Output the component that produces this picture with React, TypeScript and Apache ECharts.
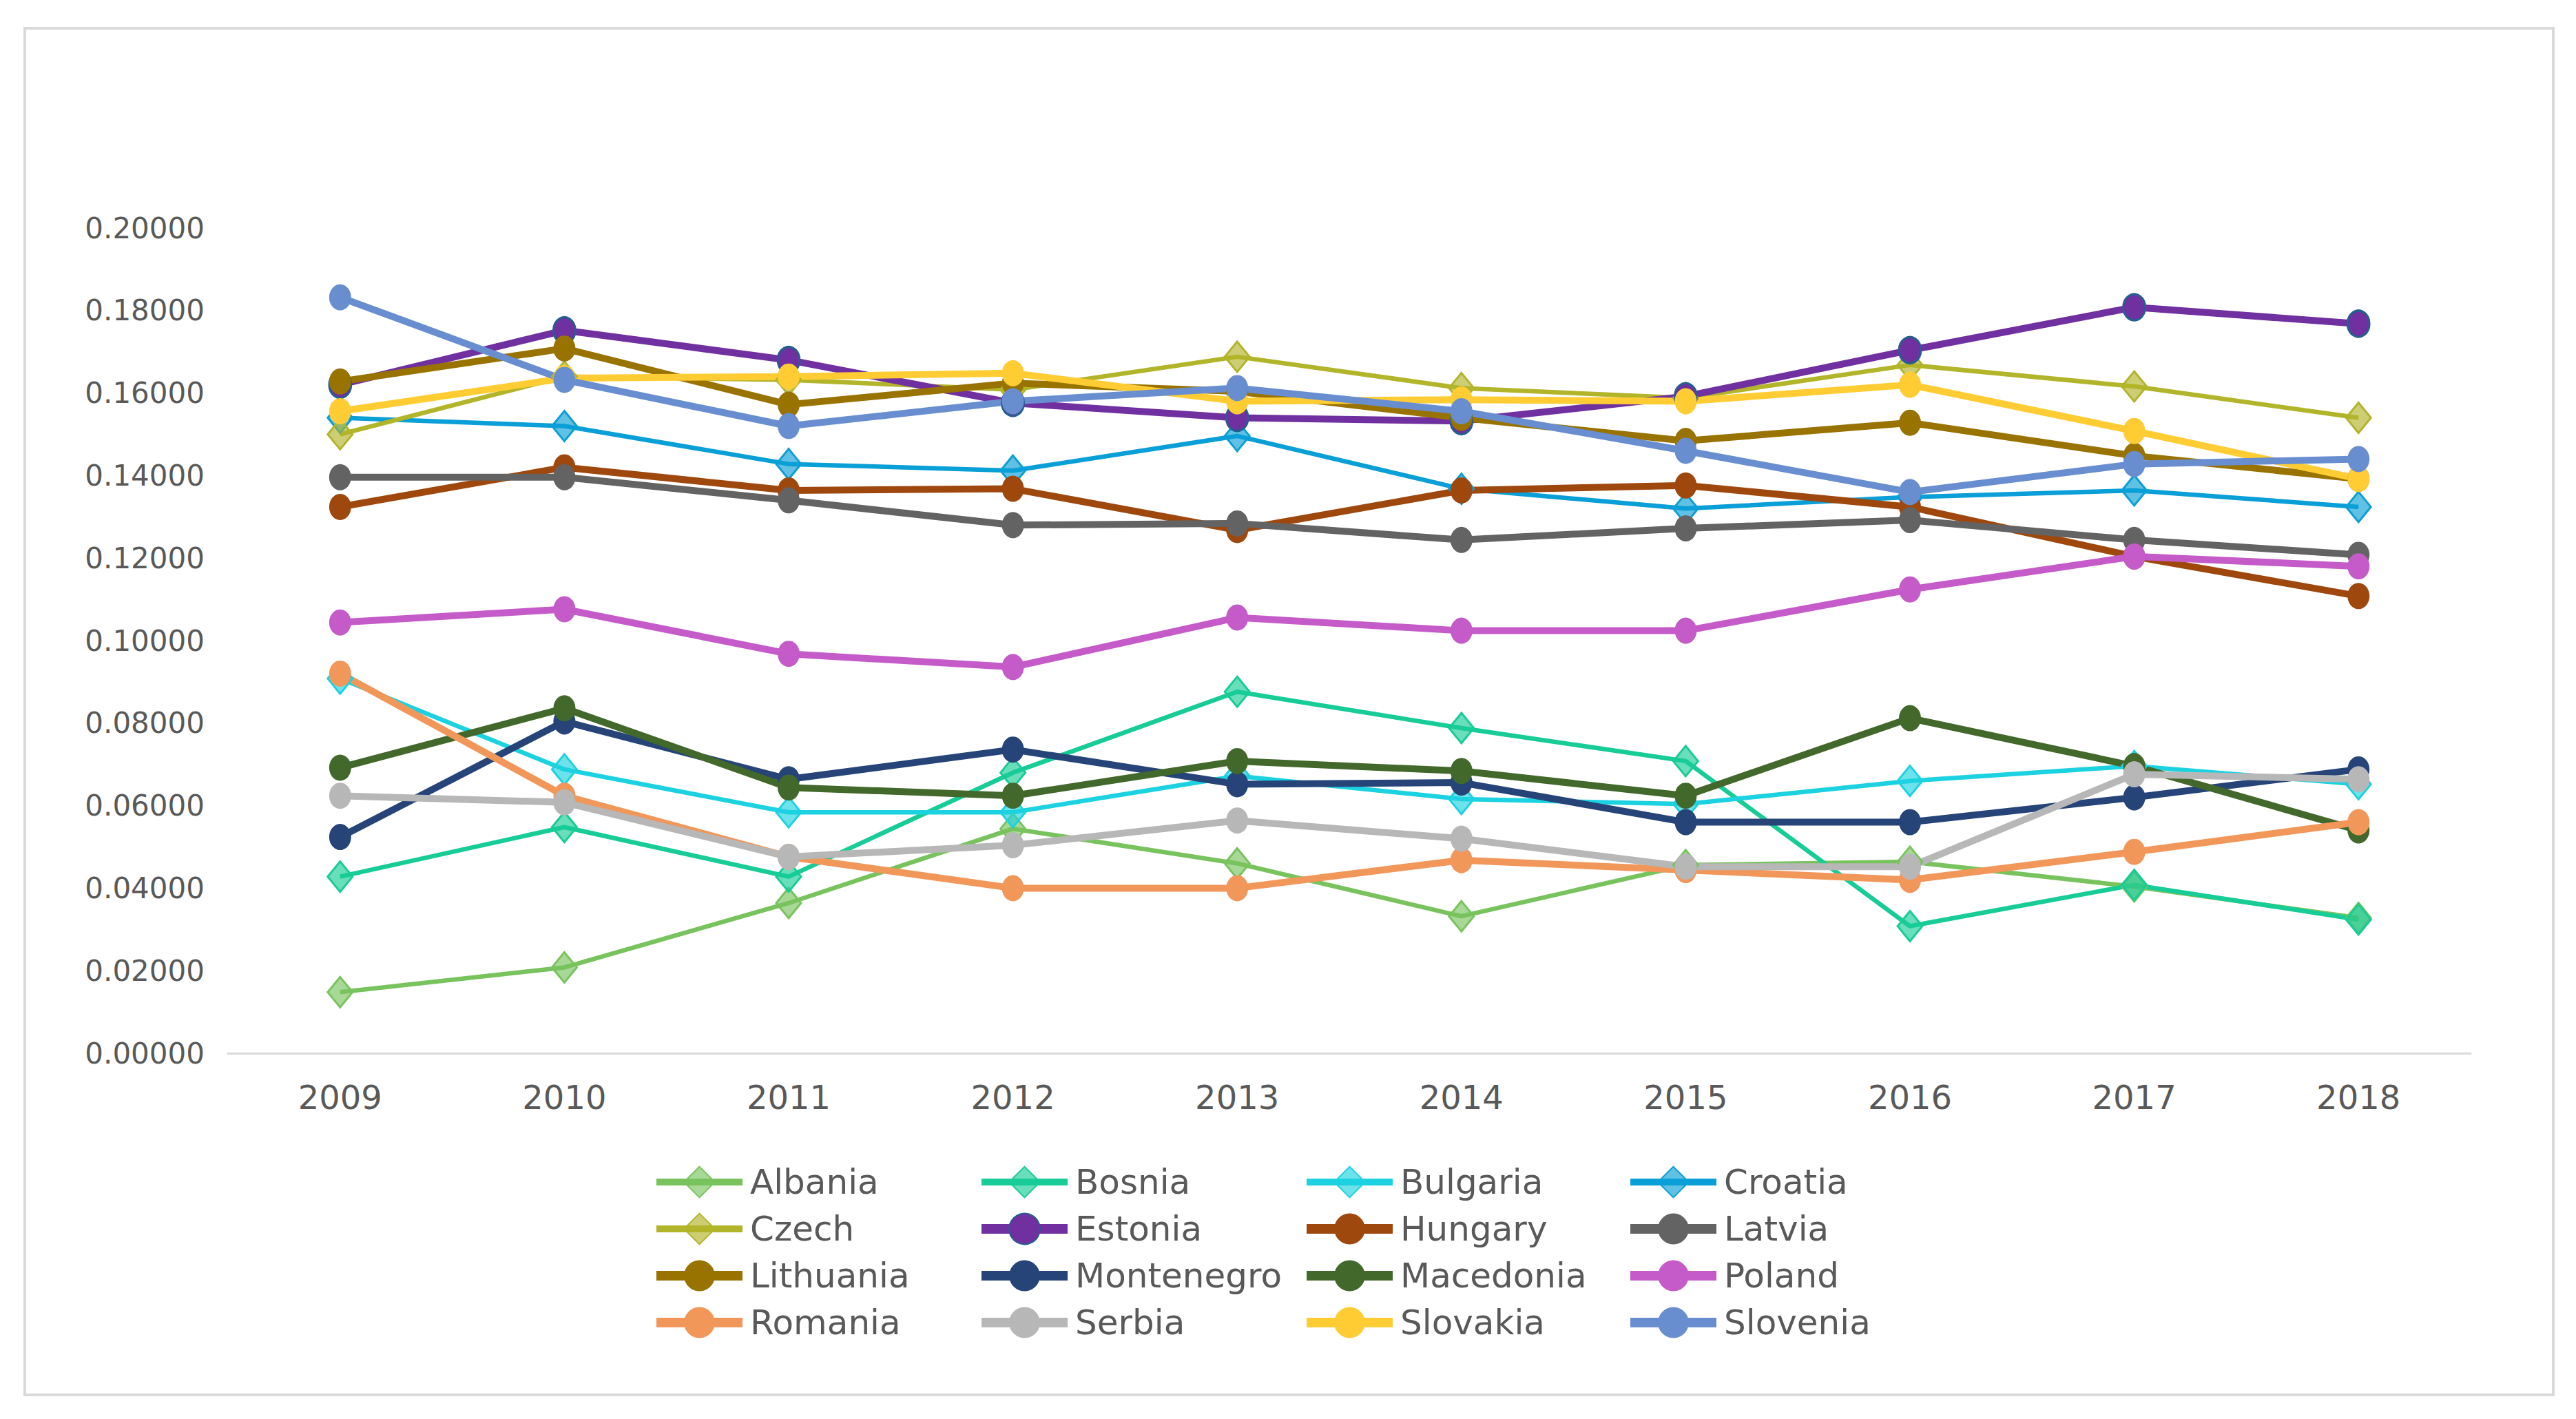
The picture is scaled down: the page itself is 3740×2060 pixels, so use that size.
import React, { useEffect, useRef } from "react";
import * as echarts from "echarts";

const years = ["2009", "2010", "2011", "2012", "2013", "2014", "2015", "2016", "2017", "2018"];
const yTicks = { min: 0, max: 0.2, interval: 0.02 };

const countries = [
  "Albania", "Bosnia", "Bulgaria", "Croatia",
  "Czech", "Estonia", "Hungary", "Latvia",
  "Lithuania", "Montenegro", "Macedonia", "Poland",
  "Romania", "Serbia", "Slovakia", "Slovenia",
];

const albania = [0.0148, 0.0208, 0.0364, 0.0544, 0.046, 0.0332, 0.0456, 0.0464, 0.0404, 0.0328];
const bosnia = [0.0428, 0.0548, 0.0428, 0.068, 0.0876, 0.0788, 0.0708, 0.0308, 0.0408, 0.0324];
const bulgaria = [0.0908, 0.0688, 0.0584, 0.0584, 0.0672, 0.0616, 0.0604, 0.066, 0.0696, 0.0652];
const croatia = [0.154, 0.152, 0.1428, 0.1412, 0.1496, 0.1368, 0.132, 0.1348, 0.1364, 0.1324];
const czech = [0.15, 0.164, 0.1632, 0.1608, 0.1688, 0.1612, 0.1588, 0.1668, 0.1616, 0.154];
const estonia = [0.162, 0.1752, 0.168, 0.1576, 0.154, 0.1532, 0.1592, 0.1704, 0.1808, 0.1768];
const hungary = [0.1324, 0.142, 0.1364, 0.1368, 0.1268, 0.1364, 0.1376, 0.1324, 0.1204, 0.1108];
const latvia = [0.1396, 0.1396, 0.134, 0.128, 0.1284, 0.1244, 0.1272, 0.1292, 0.1244, 0.1208];
const lithuania = [0.1628, 0.1708, 0.1572, 0.1624, 0.1604, 0.154, 0.1484, 0.1528, 0.1448, 0.1392];
const montenegro = [0.0524, 0.0804, 0.0664, 0.0736, 0.0652, 0.0656, 0.056, 0.056, 0.062, 0.0688];
const macedonia = [0.0692, 0.0836, 0.0644, 0.0624, 0.0708, 0.0684, 0.0624, 0.0812, 0.0696, 0.054];
const poland = [0.1044, 0.1076, 0.0968, 0.0936, 0.1056, 0.1024, 0.1024, 0.1124, 0.1204, 0.118];
const romania = [0.092, 0.0624, 0.0476, 0.04, 0.04, 0.0468, 0.0444, 0.042, 0.0488, 0.056];
const serbia = [0.0624, 0.0608, 0.0476, 0.0504, 0.0564, 0.052, 0.0452, 0.0452, 0.0676, 0.0664];
const slovakia = [0.1556, 0.1636, 0.164, 0.1648, 0.158, 0.1584, 0.158, 0.162, 0.1508, 0.1392];
const slovenia = [0.1832, 0.1632, 0.152, 0.158, 0.1612, 0.1556, 0.146, 0.136, 0.1428, 0.144];

const seriesValues = [
  albania, bosnia, bulgaria, croatia,
  czech, estonia, hungary, latvia,
  lithuania, montenegro, macedonia, poland,
  romania, serbia, slovakia, slovenia,
];

const colors = [
  "#79C35E", "#17CC97", "#1DD2E0", "#0A9FD6",
  "#B2B42A", "#7030A0", "#9E480E", "#636363",
  "#997300", "#264478", "#43682B", "#C55AC9",
  "#F1975A", "#B7B7B7", "#FFCD33", "#698ED0",
];

const diamondSeries = ["Albania", "Bosnia", "Bulgaria", "Croatia", "Czech"];

function hexToRgba(hex: string, a: number) {
  const r = parseInt(hex.slice(1, 3), 16);
  const g = parseInt(hex.slice(3, 5), 16);
  const b = parseInt(hex.slice(5, 7), 16);
  return `rgba(${r},${g},${b},${a})`;
}

const FONT = "DejaVu Sans";

export default function App() {
  const ref = useRef<HTMLDivElement>(null);

  useEffect(() => {
    if (!ref.current) return;
    const chart = echarts.init(ref.current, undefined, { renderer: "svg" });

    const series = countries.map((name, i) => {
      const isDiamond = diamondSeries.includes(name);
      const c = colors[i];
      return {
        name,
        type: "line",
        data: seriesValues[i],
        symbol: isDiamond ? "diamond" : "circle",
        symbolSize: isDiamond ? [36, 44] : [32, 38],
        lineStyle: { color: c, width: isDiamond ? 6.5 : 10 },
        itemStyle: isDiamond
          ? { color: hexToRgba(c, 0.65), borderColor: c, borderWidth: 3 }
          : name === "Estonia"
          ? { color: c, borderColor: "#255E91", borderWidth: 3 }
          : { color: c, borderWidth: 0 },
        emphasis: { disabled: true },
      };
    });

    const colXs = [946, 1418, 1890, 2360];
    const legends = colXs.map((x, col) => ({
      orient: "vertical",
      left: x,
      top: 1688,
      itemWidth: 125,
      itemHeight: 56,
      itemGap: 12,
      padding: 0,
      selectedMode: false,
      data: [0, 1, 2, 3].map((row) => {
        const idx = row * 4 + col;
        const name = countries[idx];
        const isDiamond = diamondSeries.includes(name);
        return {
          name,
          lineStyle: { color: colors[idx], width: isDiamond ? 10 : 14 },
        };
      }),
      textStyle: {
        fontFamily: FONT,
        fontSize: 50,
        color: "#595959",
        lineHeight: 56,
        padding: [0, 0, 0, 6],
      },
    }));

    chart.setOption({
      animation: false,
      backgroundColor: "#ffffff",
      graphic: [
        {
          type: "rect",
          shape: { x: 36, y: 41, width: 3671, height: 1984 },
          style: { fill: "none", stroke: "#D9D9D9", lineWidth: 4 },
          silent: true,
        },
      ],
      grid: { left: 331, right: 153, top: 331, bottom: 531, containLabel: false },
      xAxis: {
        type: "category",
        data: years,
        boundaryGap: true,
        axisLine: { lineStyle: { color: "#D9D9D9", width: 3 } },
        axisTick: { show: false },
        axisLabel: { fontFamily: FONT, fontSize: 48, color: "#595959", margin: 40 },
      },
      yAxis: {
        type: "value",
        min: yTicks.min,
        max: yTicks.max,
        interval: yTicks.interval,
        axisLine: { show: false },
        axisTick: { show: false },
        splitLine: { show: false },
        axisLabel: {
          fontFamily: FONT,
          fontSize: 42,
          color: "#595959",
          margin: 34,
          formatter: (v: number) => v.toFixed(5),
        },
      },
      legend: legends,
      series,
    });

    return () => chart.dispose();
  }, []);

  return (
    <div
      ref={ref}
      style={{ position: "fixed", left: 0, top: 0, width: 3740, height: 2060 }}
    />
  );
}
